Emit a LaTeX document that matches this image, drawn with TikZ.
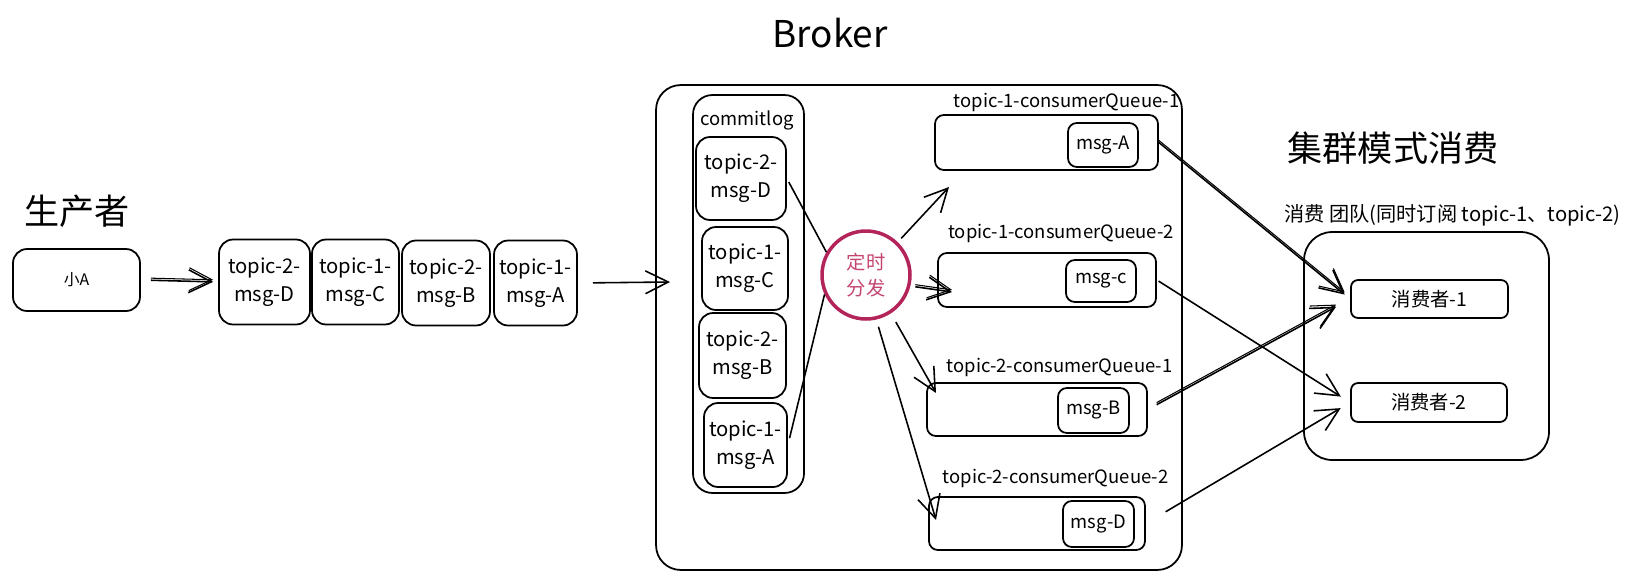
\documentclass[tikz,border=0pt]{standalone}
\usepackage{fontspec}
\setmainfont{Noto Sans CJK SC}
\usepackage{xcolor}
\usetikzlibrary{arrows.meta}
\definecolor{dispred}{HTML}{B3245A}
\definecolor{disptext}{HTML}{C4456F}

\begin{document}
\begin{tikzpicture}[x=0.02cm, y=-0.02cm,
    box/.style={draw, line width=1pt, rounded corners=8pt, inner sep=0pt, align=center, font=\fontsize{11.5}{16}\selectfont},
    qbox/.style={box, rounded corners=5pt},
    lbl/.style={font=\fontsize{10.5}{12}\selectfont, inner sep=0pt},
    line/.style={line width=0.9pt},
    arr/.style={line width=0.9pt, -{Straight Barb[length=13pt, width=13pt]}},
    twin/.style={postaction={draw, line width=0.6pt, transform canvas={yshift=1.2pt}}}]

      \useasboundingbox (0,0) rectangle (1646,585);

      \node[font=\fontsize{20}{24}\selectfont] (prodtitle) at (77,211) {生产者};
      \node[box, minimum width=2.54cm, minimum height=1.24cm, font=\fontsize{9}{11}\selectfont] (xiaoA) at (76.5,280) {小A};

      \node[box, minimum width=1.82cm, minimum height=1.70cm] (sendD) at (264.5,282) {topic-2-\\msg-D};
      \node[box, minimum width=1.74cm, minimum height=1.70cm] (sendC) at (355.5,282) {topic-1-\\msg-C};
      \node[box, minimum width=1.76cm, minimum height=1.70cm] (sendB) at (446,283) {topic-2-\\msg-B};
      \node[box, minimum width=1.66cm, minimum height=1.70cm] (sendA) at (535.5,283) {topic-1-\\msg-A};

      \node[box, rounded corners=14pt, minimum width=10.52cm, minimum height=9.70cm] (broker) at (919,327.5) {};
      \node[font=\fontsize{21}{24}\selectfont] (brokertitle) at (830,33) {Broker};

      \node[box, rounded corners=11pt, minimum width=2.22cm, minimum height=7.96cm] (clog) at (748.5,294) {};
      \node[lbl] (clogtitle) at (747,120) {commitlog};
      \node[box, minimum width=1.80cm, minimum height=1.66cm] (logD) at (741,178.5) {topic-2-\\msg-D};
      \node[box, minimum width=1.72cm, minimum height=1.66cm] (logC) at (745,268.5) {topic-1-\\msg-C};
      \node[box, minimum width=1.74cm, minimum height=1.70cm] (logB) at (742.5,355.5) {topic-2-\\msg-B};
      \node[box, minimum width=1.66cm, minimum height=1.68cm] (logA) at (745.5,445) {topic-1-\\msg-A};

      \node[circle, draw=dispred, line width=2pt, minimum size=1.76cm, inner sep=0pt, align=center,
            text=disptext, font=\fontsize{11}{15}\selectfont] (disp) at (866,275) {定时\\分发};

      \node[qbox, minimum width=4.46cm, minimum height=1.10cm] (queue1) at (1046.5,142.5) {};
      \node[qbox, minimum width=1.40cm, minimum height=0.88cm, font=\fontsize{10.5}{12}\selectfont] (qmsgA) at (1103,145) {msg-A};
      \node[lbl] (queue1title) at (1066.5,102) {topic-1-consumerQueue-1};

      \node[qbox, minimum width=4.36cm, minimum height=1.08cm] (queue2) at (1047,280) {};
      \node[qbox, minimum width=1.40cm, minimum height=0.84cm, font=\fontsize{10.5}{12}\selectfont] (qmsgC) at (1101,281) {msg-c};
      \node[lbl] (queue2title) at (1061,233) {topic-1-consumerQueue-2};

      \node[qbox, minimum width=4.40cm, minimum height=1.06cm] (queue3) at (1037,409.5) {};
      \node[qbox, minimum width=1.42cm, minimum height=0.90cm, font=\fontsize{10.5}{12}\selectfont] (qmsgB) at (1093.5,410.5) {msg-B};
      \node[lbl] (queue3title) at (1059.5,367) {topic-2-consumerQueue-1};

      \node[qbox, minimum width=4.32cm, minimum height=1.06cm] (queue4) at (1037,523.5) {};
      \node[qbox, minimum width=1.42cm, minimum height=0.92cm, font=\fontsize{10.5}{12}\selectfont] (qmsgD) at (1098.5,524) {msg-D};
      \node[lbl] (queue4title) at (1055.5,478) {topic-2-consumerQueue-2};

      \node[font=\fontsize{20}{24}\selectfont] (grouptitle) at (1393,148) {集群模式消费};
      \node[lbl, anchor=west, font=\fontsize{11.5}{13}\selectfont] (groupsub) at (1284,215) {消费 团队(同时订阅 topic-1、topic-2)};
      \node[box, rounded corners=16pt, minimum width=4.90cm, minimum height=4.56cm] (group) at (1426.5,346) {};
      \node[qbox, rounded corners=4pt, minimum width=3.14cm, minimum height=0.76cm, font=\fontsize{11}{13}\selectfont] (cons1) at (1429.5,299) {消费者-1};
      \node[qbox, rounded corners=4pt, minimum width=3.12cm, minimum height=0.78cm, font=\fontsize{11}{13}\selectfont] (cons2) at (1429,402.5) {消费者-2};

      \coordinate (brokerin) at (670,282);
      \coordinate (tipA) at (949,187);
      \coordinate (tipC) at (952,292);
      \coordinate (tipB) at (936,393);
      \coordinate (tipD) at (936,520);

      \draw[arr, twin, shorten <=0.2cm, shorten >=0.1cm] (xiaoA.east) -- (sendD.west);
      \draw[arr, shorten <=0.3cm] (sendA.east) -- (brokerin);

      \draw[line, shorten <=0.08cm] (logD.east) -- (disp.150);
      \draw[line, shorten <=0.14cm] (logA.east) -- (disp.205);

      \draw[arr, shorten <=0.1cm] (disp.46) -- (tipA);
      \draw[arr, twin, shorten <=0.1cm] (disp.-14) -- (tipC);
      \draw[arr, shorten <=0.2cm] (disp.-57) -- (tipB);
      \draw[arr, shorten <=0.15cm] (disp.-77) -- (tipD);

      \draw[arr, twin, shorten >=0.14cm] (queue1.east) -- (cons1.west);
      \draw[arr, shorten <=0.04cm, shorten >=0.22cm] (queue2.east) -- (cons2.west);
      \draw[arr, twin, shorten <=0.2cm, shorten >=0.32cm] (queue3.east) -- (cons1.west);
      \draw[arr, shorten <=0.46cm, shorten >=0.22cm] (queue4.east) -- (cons2.west);
    \end{tikzpicture}
\end{document}
